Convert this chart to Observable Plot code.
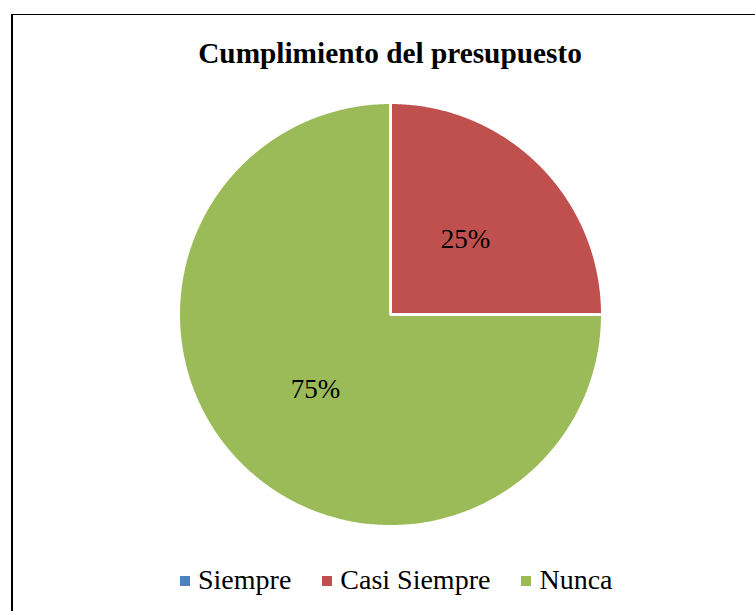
<!DOCTYPE html>
<html>
<head>
<meta charset="utf-8">
<script src="https://cdn.jsdelivr.net/npm/d3@7"></script>
<script src="https://cdn.jsdelivr.net/npm/@observablehq/plot@0.6"></script>
<style>
  html, body { margin: 0; padding: 0; background: #fff; width: 755px; height: 611px; overflow: hidden; }
  body { position: relative; font-family: "Liberation Serif", "Times New Roman", serif; color: #000; }
  #frame { position: absolute; left: 11px; top: 14px; width: 800px; height: 700px; border-left: 2px solid #000; border-top: 1.5px solid #000; box-sizing: border-box; }
  #title { position: absolute; left: 0; width: 780px; top: 38.7px; text-align: center; font-size: 29.3px; line-height: 29.3px; font-weight: bold; white-space: nowrap; }
  #chart { position: absolute; left: 159.5px; top: 84px; }
  #legend { position: absolute; left: 180px; top: 565.5px; font-size: 28px; line-height: 28px; white-space: nowrap; display: flex; align-items: baseline; }
  .item { display: inline-flex; align-items: center; }
  .sw { display: inline-block; width: 10px; height: 10px; margin-right: 8px; position: relative; top: 1px; }
  .item + .item { margin-left: 31px; }
</style>
</head>
<body>
<div id="frame"></div>
<div id="title"></div>
<div id="chart"></div>
<div id="legend"></div>
<script>
const titleText = "Cumplimiento del presupuesto";
const categories = ["Siempre", "Casi Siempre", "Nunca"];
const percents = [0, 25, 75];
const colors = ["#4F81BD", "#C0504D", "#9BBB59"];

document.getElementById("title").textContent = titleText;

const size = 460;
const R = 212;                 // pie radius in px
const W = (size / 2) / R;      // half-domain in radius units

const pie = d3.pie().sort(null).value(d => d.value);
const arcs = pie(categories.map((c, i) => ({cat: c, value: percents[i]})));

// polygon outline of each slice (center + sampled arc)
const poly = [];
arcs.forEach(a => {
  const cat = a.data.cat;
  poly.push({cat, x: 0, y: 0});
  const span = a.endAngle - a.startAngle;
  const n = Math.max(1, Math.ceil(span / (Math.PI / 360)));
  for (let k = 0; k <= n; k++) {
    const t = a.startAngle + span * k / n;
    poly.push({cat, x: Math.sin(t), y: Math.cos(t)});
  }
});

const labels = arcs.filter(a => a.data.value > 0).map(a => {
  const m = (a.startAngle + a.endAngle) / 2;
  return {cat: a.data.cat, x: 0.5 * Math.sin(m), y: 0.5 * Math.cos(m), text: a.data.value + "%"};
});

const chart = Plot.plot({
  width: size,
  height: size,
  margin: 0,
  x: {domain: [-W, W], axis: null},
  y: {domain: [-W, W], axis: null},
  color: {domain: categories, range: colors},
  style: {background: "transparent", overflow: "visible"},
  marks: [
    Plot.line(poly, {x: "x", y: "y", z: "cat", fill: "cat", stroke: "white", strokeWidth: 3, strokeLinejoin: "miter", curve: "linear-closed"}),
    Plot.text(labels, {x: "x", y: "y", text: "text", fill: "black", fontSize: 27, fontFamily: "Liberation Serif"})
  ]
});
document.getElementById("chart").appendChild(chart);

const legend = document.getElementById("legend");
categories.forEach((c, i) => {
  const item = document.createElement("span");
  item.className = "item";
  const sw = document.createElement("span");
  sw.className = "sw";
  sw.style.background = colors[i];
  const lab = document.createElement("span");
  lab.textContent = c;
  item.appendChild(sw);
  item.appendChild(lab);
  legend.appendChild(item);
});
</script>
</body>
</html>
